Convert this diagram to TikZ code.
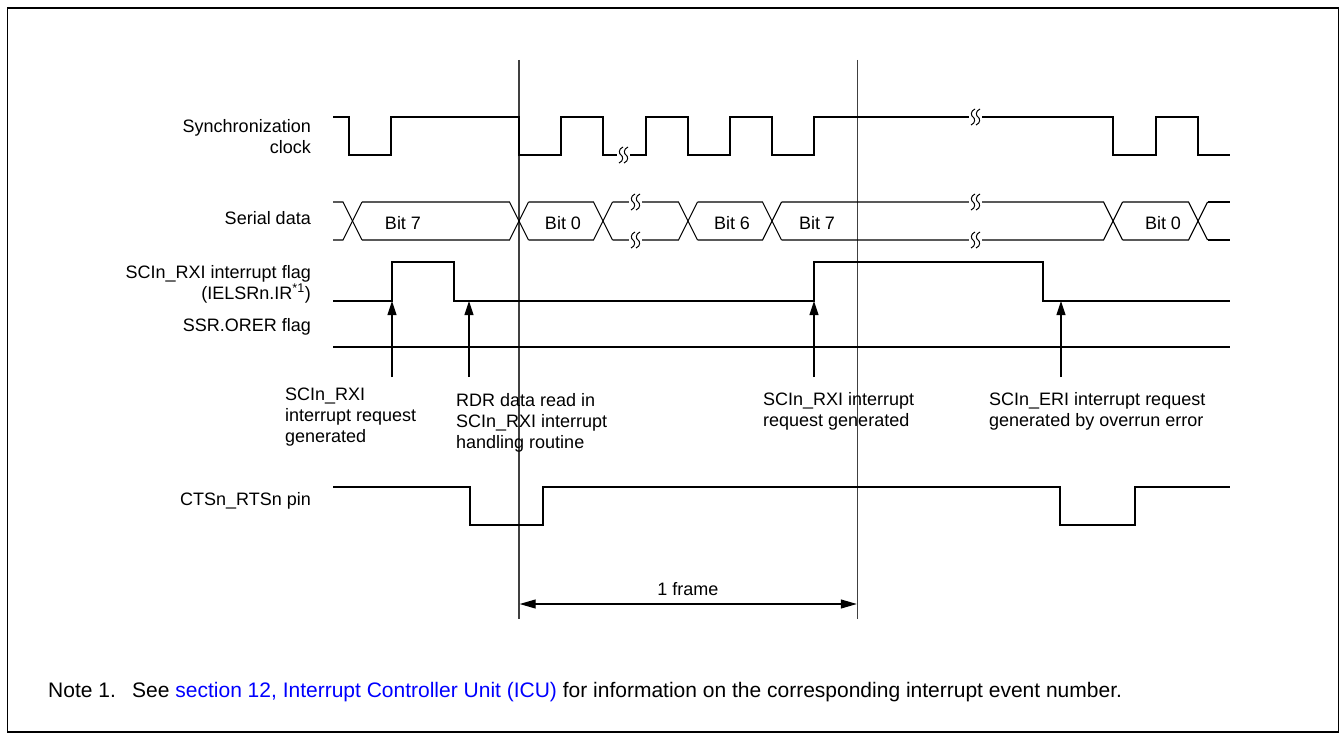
\documentclass[tikz,border=0pt]{standalone}
\usepackage{fontspec}
\setmainfont{Liberation Sans}
\usetikzlibrary{arrows.meta}
\begin{document}
\begin{tikzpicture}[x=1pt,y=-1pt,
  every node/.style={font=\fontsize{18}{21}\selectfont, inner sep=0pt},
  sig/.style={line width=1.8pt, line join=miter},
  dat/.style={line width=1.1pt},
  vline/.style={line width=1.4pt, draw=black!75},
  evarrow/.style={line width=1.1pt, -{Triangle[length=14pt,width=9pt]}},
  lbl/.style={anchor=east, align=right},
  caplbl/.style={anchor=west, align=left},
  notefont/.style={font=\fontsize{21}{25}\selectfont},
  brk/.pic={
    \fill[white] (-4,-8) rectangle (9,8);
    \foreach \dx in {0,5}{
      \draw[line width=1pt] (\dx+2,-8) .. controls (\dx-3,-6) and (\dx-2,-1) .. (\dx,0)
                            .. controls (\dx+2,1) and (\dx+3,6) .. (\dx-2,8);}
  }]
\useasboundingbox (0,0) rectangle (1341,733);
\draw[line width=1.5pt] (7.5,8) rectangle (1338.5,732);

% left labels
\node[lbl] (lclk) at (311,137) {Synchronization\\clock};
\node[lbl] (ldat) at (311,218) {Serial data};
\node[lbl] (lrxi) at (311,284) {SCIn\_RXI interrupt flag\\(IELSRn.IR\textsuperscript{*1})};
\node[lbl] (lore) at (311,327) {SSR.ORER flag};
\node[lbl] (lcts) at (311,501) {CTSn\_RTSn pin};

% vertical reference lines
\coordinate (va1) at (519,60); \coordinate (vb1) at (519,619);
\coordinate (va2) at (857.5,60); \coordinate (vb2) at (857.5,619);
\draw[vline] (va1) -- (vb1);
\draw[vline] (va2) -- (vb2);

% synchronization clock
\draw[sig] (333,117) -- (349,117) -- (349,155) -- (391,155) -- (391,117) -- (519,117)
  -- (519,155) -- (561,155) -- (561,117) -- (603,117) -- (603,155) -- (646,155)
  -- (646,117) -- (688,117) -- (688,155) -- (730,155) -- (730,117) -- (772,117)
  -- (772,155) -- (814,155) -- (814,117) -- (1113,117) -- (1113,155) -- (1156,155)
  -- (1156,117) -- (1198,117) -- (1198,155) -- (1230,155);
\pic at (621,155) {brk};
\pic at (973,117) {brk};

% serial data
\def\dt{202}\def\db{240}\def\dm{221}
\draw[dat] (333,\dt) -- (343,\dt) -- (352.5,\dm) -- (362,\db);
\draw[dat] (333,\db) -- (343,\db) -- (352.5,\dm) -- (362,\dt);
\foreach \a/\b in {352.5/519, 519/603, 603/688, 688/772, 772/1113, 1113/1198}{
  \draw[dat] (\a+9.5,\dt) -- (\b-9.5,\dt) -- (\b,\dm) -- (\b+9.5,\db);
  \draw[dat] (\a+9.5,\db) -- (\b-9.5,\db) -- (\b,\dm) -- (\b+9.5,\dt);
}
\draw[dat] (1207.5,\dt) -- (1230,\dt);
\draw[dat] (1207.5,\db) -- (1230,\db);
\node (b7a) at (403,223) {Bit 7};
\node (b0a) at (563,223) {Bit 0};
\node (b6)  at (732,223) {Bit 6};
\node (b7b) at (817,223) {Bit 7};
\node (b0b) at (1163,223) {Bit 0};
\pic at (633,\dt) {brk};
\pic at (633,\db) {brk};
\pic at (973,\dt) {brk};
\pic at (973,\db) {brk};

% SCIn_RXI interrupt flag
\draw[sig] (333,301) -- (392,301) -- (392,262) -- (454,262) -- (454,301) -- (814,301)
  -- (814,262) -- (1043,262) -- (1043,301) -- (1230,301);
% SSR.ORER flag
\draw[sig] (333,347) -- (1230,347);

% event arrows
\coordinate (e1s) at (392,377); \coordinate (e1t) at (392,301);
\coordinate (e2s) at (469,377); \coordinate (e2t) at (469,301);
\coordinate (e3s) at (814,377); \coordinate (e3t) at (814,301);
\coordinate (e4s) at (1061,377); \coordinate (e4t) at (1061,301);
\draw[evarrow] (e1s) -- (e1t);
\draw[evarrow] (e2s) -- (e2t);
\draw[evarrow] (e3s) -- (e3t);
\draw[evarrow] (e4s) -- (e4t);

\node[caplbl] (c1) at (285,417) {SCIn\_RXI\\interrupt request\\generated};
\node[caplbl] (c2) at (456,423) {RDR data read in\\SCIn\_RXI interrupt\\handling routine};
\node[caplbl] (c3) at (763,411) {SCIn\_RXI interrupt\\request generated};
\node[caplbl] (c4) at (989,411) {SCIn\_ERI interrupt request\\generated by overrun error};

% CTSn_RTSn pin
\draw[sig] (333,487) -- (470,487) -- (470,525) -- (543,525) -- (543,487) -- (1060,487)
  -- (1060,525) -- (1135,525) -- (1135,487) -- (1230,487);

% 1 frame
\coordinate (f1) at (519.7,604); \coordinate (f2) at (856.8,604);
\draw[line width=1.1pt, {Triangle[length=16pt,width=9pt]}-{Triangle[length=16pt,width=9pt]}] (f1) -- (f2);
\node (frm) at (688,589) {1 frame};

% note
\node[notefont, anchor=west] (note1) at (48,690) {Note 1.};
\node[notefont, anchor=base west] (note) at ([xshift=84pt]note1.base west) {See \textcolor{blue}{section 12, Interrupt Controller Unit (ICU)} for information on the corresponding interrupt event number.};
\end{tikzpicture}
\end{document}
